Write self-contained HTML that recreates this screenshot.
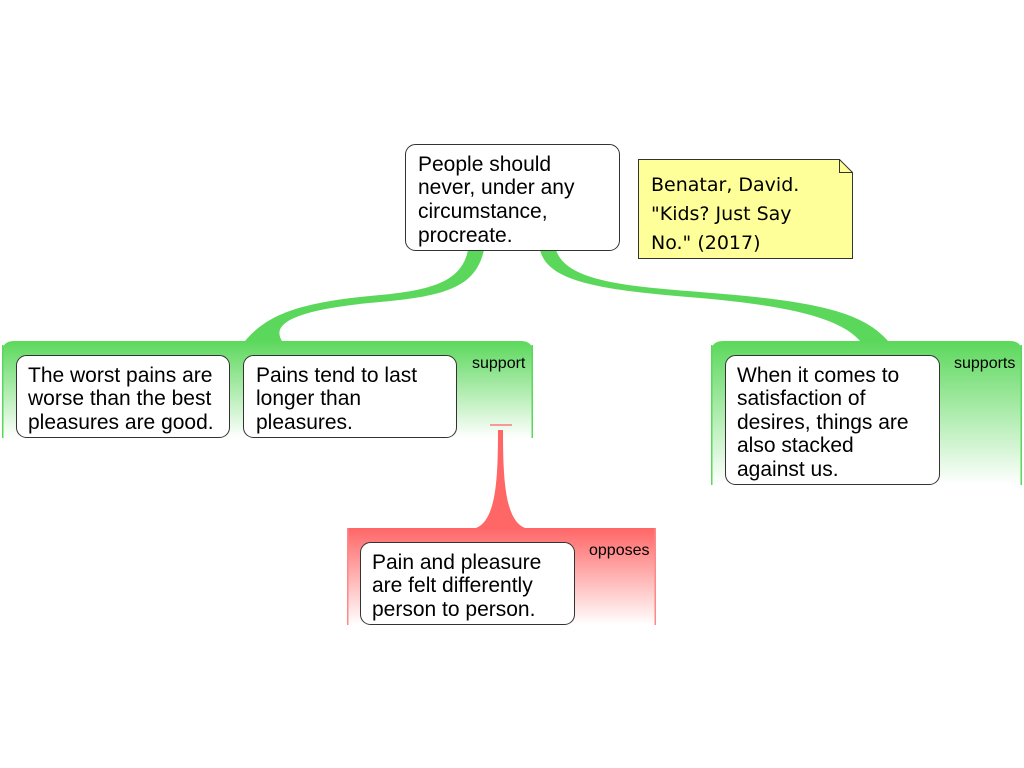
<!DOCTYPE html>
<html><head><meta charset="utf-8"><style>
body{margin:0;background:#fff;}
svg{display:block}
.t{font-family:"Liberation Sans",sans-serif;font-size:21px;fill:#000}
.s{font-family:"Liberation Sans",sans-serif;font-size:16px;fill:#000}
.n{font-family:"DejaVu Sans",sans-serif;font-size:19px;fill:#000}
</style></head><body>
<svg width="1024" height="768" viewBox="0 0 1024 768">
<defs>
<linearGradient id="g" x1="0" y1="0" x2="0" y2="1">
<stop offset="0" stop-color="#5bd85b"/><stop offset="1" stop-color="#fff"/></linearGradient>
<linearGradient id="r" x1="0" y1="0" x2="0" y2="1">
<stop offset="0" stop-color="#ff6666"/><stop offset="1" stop-color="#fff"/></linearGradient>
</defs>
<!-- left connector -->
<path d="M468,250 C462,280 435,290 380,295 C300,302 268,314 245,341 L282,341 C270,322 300,309 380,302 C450,296 476,285 484,250 Z" fill="#5bd85b"/>
<!-- right connector -->
<path d="M540,250 C548,282 600,290 700,298 C790,306 840,318 860,341 L888,341 C860,308 800,300 700,292 C620,286 566,280 556,250 Z" fill="#5bd85b"/>
<!-- green regions -->
<path d="M2,438 L2,353 Q2,341 14,341 L521,341 Q533,341 533,353 L533,438 Z" fill="url(#g)"/>
<rect x="2" y="345" width="1.5" height="93" fill="#5bd85b"/>
<rect x="531.5" y="345" width="1.5" height="93" fill="#5bd85b"/>
<path d="M711,485 L711,353 Q711,341 723,341 L1010,341 Q1022,341 1022,353 L1022,485 Z" fill="url(#g)"/>
<rect x="711" y="345" width="1.5" height="140" fill="#5bd85b"/>
<rect x="1020.5" y="345" width="1.5" height="140" fill="#5bd85b"/>
<!-- red connector -->
<rect x="490" y="424" width="22" height="2" fill="#f59a9a"/>
<path d="M498,430 L503,430 C503,480 505,520 525,528 L476,528 C496,520 498,480 498,430 Z" fill="#ff6666"/>
<rect x="347" y="528" width="309" height="97" fill="url(#r)"/>
<rect x="347" y="528" width="1.5" height="97" fill="#ff8888"/>
<rect x="654.5" y="528" width="1.5" height="97" fill="#ff8888"/>
<!-- root -->
<rect x="405.5" y="144.5" width="214" height="106" rx="10" fill="#fff" stroke="#333"/>
<text class="t"><tspan x="418" y="171">People should</tspan><tspan x="418" y="194">never, under any</tspan><tspan x="418" y="218">circumstance,</tspan><tspan x="418" y="242">procreate.</tspan></text>
<!-- note -->
<path d="M638.5,159.5 L839.5,159.5 L852.5,172.5 L852.5,258.5 L638.5,258.5 Z" fill="#ffff99" stroke="#333"/>
<path d="M839.5,159.5 L839.5,172.5 L852.5,172.5" fill="none" stroke="#333"/>
<text class="n"><tspan x="651" y="191">Benatar, David.</tspan><tspan x="651" y="220">"Kids? Just Say</tspan><tspan x="651" y="249">No." (2017)</tspan></text>
<!-- boxes -->
<rect x="16.5" y="355.5" width="213" height="82" rx="10" fill="#fff" stroke="#333"/>
<text class="t"><tspan x="28" y="382">The worst pains are</tspan><tspan x="28" y="405">worse than the best</tspan><tspan x="28" y="429">pleasures are good.</tspan></text>
<rect x="243.5" y="355.5" width="213" height="82" rx="10" fill="#fff" stroke="#333"/>
<text class="t"><tspan x="256" y="382">Pains tend to last</tspan><tspan x="256" y="405">longer than</tspan><tspan x="256" y="429">pleasures.</tspan></text>
<text class="s" x="472" y="368">support</text>
<rect x="725.5" y="355.5" width="214" height="129" rx="10" fill="#fff" stroke="#333"/>
<text class="t"><tspan x="737" y="382">When it comes to</tspan><tspan x="737" y="405">satisfaction of</tspan><tspan x="737" y="429">desires, things are</tspan><tspan x="737" y="452">also stacked</tspan><tspan x="737" y="476">against us.</tspan></text>
<text class="s" x="954" y="368">supports</text>
<rect x="360.5" y="542.5" width="214" height="82" rx="10" fill="#fff" stroke="#333"/>
<text class="t"><tspan x="372" y="569">Pain and pleasure</tspan><tspan x="372" y="592">are felt differently</tspan><tspan x="372" y="616">person to person.</tspan></text>
<text class="s" x="589" y="555">opposes</text>
</svg>
</body></html>
